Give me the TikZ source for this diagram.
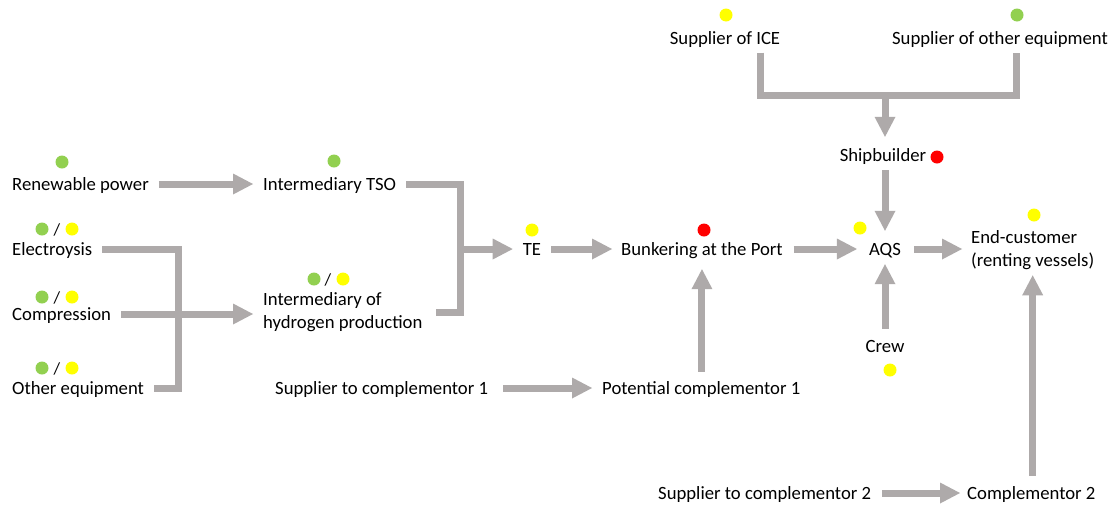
\documentclass[tikz,border=0pt]{standalone}
\usepackage{fontspec}
\setmainfont{Carlito}
\usetikzlibrary{arrows.meta,calc}
\definecolor{flow}{HTML}{AEAAAA}
\definecolor{mgreen}{HTML}{92D050}
\definecolor{myellow}{HTML}{FFFF00}
\definecolor{mred}{HTML}{FF0000}
\begin{document}
\begin{tikzpicture}[x=1pt,y=-1pt,
  every node/.style={font=\fontsize{18.7}{23}\selectfont, inner sep=0pt},
  lbl/.style={text height=17pt, text depth=4pt},
  lbl2/.style={align=left},
  dot/.style={circle, minimum size=13pt, inner sep=0pt},
  gdot/.style={dot, fill=mgreen},
  ydot/.style={dot, fill=myellow},
  rdot/.style={dot, fill=mred},
  slash/.style={font=\fontsize{17}{20}\selectfont},
  bar/.style={draw=flow, line width=7pt, line join=miter},
  arr/.style={bar, -{Triangle[length=20pt,width=21pt,line width=0pt]}},
]
\fill[white] (0,0) rectangle (1115,507);
\useasboundingbox (0,0) rectangle (1115,507);

% actors
\node[lbl,anchor=west] (ren) at (12,184) {Renewable power};
\node[lbl,anchor=west] (ely) at (12,249) {Electroysis};
\node[lbl,anchor=west] (cmp) at (12,314) {Compression};
\node[lbl,anchor=west] (oth) at (12,388) {Other equipment};
\node[lbl,anchor=west] (tso) at (263,184) {Intermediary TSO};
\node[lbl2,anchor=west] (ihp) at (263,312.5) {Intermediary of\\hydrogen production};
\node[lbl] (te) at (532,249) {TE};
\node[lbl,anchor=west] (bun) at (621,249) {Bunkering at the Port};
\node[lbl] (aqs) at (885,249) {AQS};
\node[lbl2,anchor=west] (cust) at (971,250.5) {End-customer\\(renting vessels)};
\node[lbl] (ship) at (883,155) {Shipbuilder};
\node[lbl] (ice) at (725,38) {Supplier of ICE};
\node[lbl] (soe) at (1000,38) {Supplier of other equipment};
\node[lbl] (crew) at (885,346) {Crew};
\node[lbl,anchor=west] (sc1) at (275,388) {Supplier to complementor 1};
\node[lbl,anchor=west] (pc1) at (602,388) {Potential complementor 1};
\node[lbl,anchor=west] (sc2) at (658,493) {Supplier to complementor 2};
\node[lbl,anchor=west] (c2) at (967,493) {Complementor 2};

% status markers
\node[gdot] (ren-g) at (62,162) {};
\node[gdot] (ely-g) at (42,229) {};
\node[slash] (ely-s) at (57,229.5) {/};
\node[ydot] (ely-y) at (72,229) {};
\node[gdot] (cmp-g) at (42,297) {};
\node[slash] (cmp-s) at (57,297.5) {/};
\node[ydot] (cmp-y) at (72,297) {};
\node[gdot] (oth-g) at (42,368) {};
\node[slash] (oth-s) at (57,368.5) {/};
\node[ydot] (oth-y) at (72,368) {};
\node[gdot] (tso-g) at (334,161) {};
\node[gdot] (ihp-g) at (314,279) {};
\node[slash] (ihp-s) at (328,279.5) {/};
\node[ydot] (ihp-y) at (343,279) {};
\node[ydot] (te-y) at (532,230) {};
\node[rdot] (bun-r) at (704,230) {};
\node[ydot] (aqs-y) at (860,228) {};
\node[ydot] (cust-y) at (1034,215) {};
\node[rdot] (ship-r) at (937,157) {};
\node[ydot] (ice-y) at (726,15) {};
\node[gdot] (soe-g) at (1017,15) {};
\node[ydot] (crew-y) at (890,370) {};

% junction columns
\coordinate (j1) at (178,0);
\coordinate (j2) at (460,0);
\coordinate (j3) at (760,95);
\coordinate (j4) at (1016,95);

% flows
\draw[arr, shorten <=10pt, shorten >=10pt] (ren.east) -- (ren.east -| tso.west);

\draw[bar] ([xshift=10pt]ely.east) -| (oth.east -| j1) -- ([xshift=10pt]oth.east);
\draw[arr, shorten <=10pt, shorten >=10pt] (cmp.east) -- (cmp.east -| ihp.west);

\draw[bar] ([xshift=10pt]tso.east) -| (ihp.east -| j2) -- ([xshift=13pt]ihp.east);
\draw[arr, shorten >=10pt] (te -| j2) -- (te.west);

\draw[arr, shorten <=10pt, shorten >=9pt] (te.east) -- (bun.west);
\draw[arr, shorten <=11pt, shorten >=12pt] (bun.east) -- (bun.east -| aqs.west);
\draw[arr, shorten <=13pt, shorten >=9pt] (aqs.east) -- (aqs.east -| cust.west);

\draw[bar] ($(ice.south -| j3)+(0,4)$) -- (j3) -- (j4) -- ($(soe.south -| j4)+(0,4)$);
\draw[arr, shorten >=7.5pt] (aqs |- j3) -- (ship.north -| aqs);
\draw[arr, shorten <=4.5pt, shorten >=7.5pt] (ship.south -| aqs) -- (aqs.north);
\draw[arr, shorten <=6.5pt, shorten >=4.5pt] (crew.north) -- (aqs.south);

\draw[arr, shorten <=15pt, shorten >=10pt] (sc1.east) -- (pc1.west);
\draw[arr, shorten <=5.5pt, shorten >=9.5pt] (pc1.north -| bun.south) -- (bun.south);

\draw[arr, shorten <=11pt, shorten >=7pt] (sc2.east) -- (c2.west);
\draw[arr, shorten <=6.5pt, shorten >=5pt] (cust.south |- c2.north) -- (cust.south);
\end{tikzpicture}
\end{document}
